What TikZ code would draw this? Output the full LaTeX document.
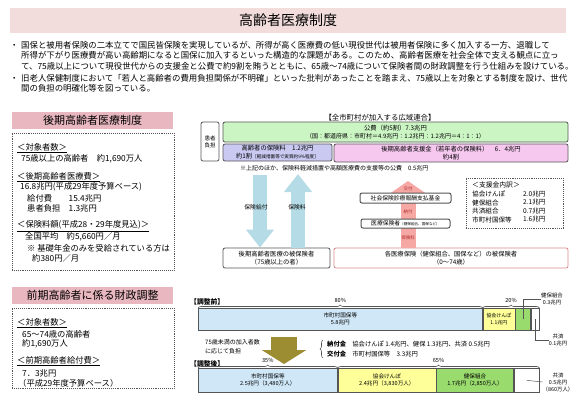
\documentclass[tikz,border=0pt]{standalone}
\usepackage{fontspec}
\setmainfont{Noto Sans CJK JP}
\usetikzlibrary{arrows.meta,decorations.pathreplacing}

\definecolor{titlepink}{HTML}{F2DCDC}
\definecolor{headpink}{HTML}{E8B7BF}
\definecolor{kohigreen}{HTML}{CCF5C4}
\definecolor{hokenlav}{HTML}{C9C9F2}
\definecolor{shienpink}{HTML}{F6C8F0}
\definecolor{arrowblue}{HTML}{B5DCE6}
\definecolor{arrowpink}{HTML}{F6A8A4}
\definecolor{arrowolive}{HTML}{9C8C32}
\definecolor{arrowred}{HTML}{B03030}
\definecolor{barblue}{HTML}{CFE7F7}
\definecolor{baryellow}{HTML}{FFFF99}
\definecolor{bargreen}{HTML}{9ADB6E}
\definecolor{framegray}{HTML}{555555}
\definecolor{kakuframe}{HTML}{D98C8C}

\tikzset{
  bodytxt/.style={inner sep=0pt, font=\fontsize{8.4}{10.5}\selectfont},
  headband/.style={fill=headpink, minimum width=161pt, minimum height=17pt, inner sep=0pt, font=\fontsize{11}{13}\selectfont},
  dotbox/.style={draw=framegray, densely dotted, line width=0.9pt, inner sep=0pt},
  ltxt/.style={anchor=west, inner sep=0pt, font=\fontsize{8.3}{10}\selectfont},
  rbox/.style={draw=framegray, rounded corners=2pt, line width=0.8pt, inner sep=0pt, align=center, font=\fontsize{6.3}{7.8}\selectfont},
  mtxt/.style={inner sep=0pt, align=center, font=\fontsize{6.2}{7.5}\selectfont},
  seg/.style={draw=framegray, line width=0.6pt, anchor=north west, inner sep=0pt, align=center, font=\fontsize{5.6}{7}\selectfont},
  brc/.style={decorate, decoration={brace, amplitude=3pt}, draw=framegray, line width=0.6pt},
  fatblue/.style={arrowblue, line width=14pt, -{Triangle[width=27pt,length=18pt]}},
  fatpink/.style={arrowpink, line width=15pt, -{Triangle[width=48pt,length=17pt]}},
  fatolive/.style={arrowolive, line width=26pt, -{Triangle[width=44pt,length=14pt]}},
  lead/.style={draw=framegray, line width=0.5pt},
  redtxt/.style={inner sep=0pt, text=arrowred, font=\fontsize{4.5}{5}\selectfont},
}

\begin{document}
\begin{tikzpicture}[x=1pt,y=-1pt]
  \useasboundingbox (0,0) rectangle (577,400);

  % title and introduction
  \node[fill=titlepink, minimum width=556pt, minimum height=25pt, font=\fontsize{14}{16}\selectfont] (title) at (288,20.5) {高齢者医療制度};

  \node[bodytxt, anchor=west] (dot1) at (10,46) {・};
  \node[bodytxt, anchor=north west, align=left] (intro1) at (21,41) {国保と被用者保険の二本立てで国民皆保険を実現しているが、所得が高く医療費の低い現役世代は被用者保険に多く加入する一方、退職して\\所得が下がり医療費が高い高齢期になると国保に加入するといった構造的な課題がある。このため、高齢者医療を社会全体で支える観点に立っ\\て、75歳以上について現役世代からの支援金と公費で約9割を賄うとともに、65歳～74歳について保険者間の財政調整を行う仕組みを設けている。};
  \node[bodytxt, anchor=west] (dot2) at (10,79) {・};
  \node[bodytxt, anchor=north west, align=left] (intro2) at (21,74) {旧老人保健制度において「若人と高齢者の費用負担関係が不明確」といった批判があったことを踏まえ、75歳以上を対象とする制度を設け、世代\\間の負担の明確化等を図っている。};

  % left: koki koreisha
  \node[headband] (hdA) at (92.5,120) {後期高齢者医療制度};
  \node[dotbox, minimum width=162pt, minimum height=137pt] (boxA) at (93,201.5) {};
  \node[ltxt] (a1) at (17,148) {\underline{＜対象者数＞}};
  \node[ltxt] (a2) at (21,159) {75歳以上の高齢者　約1,690万人};
  \node[ltxt] (a3) at (17,177) {\underline{＜後期高齢者医療費＞}};
  \node[ltxt] (a4) at (20,187) {16.8兆円(平成29年度予算ベース)};
  \node[ltxt] (a5) at (27,198) {給付費　　15.4兆円};
  \node[ltxt] (a6) at (27,208) {患者負担　1.3兆円};
  \node[ltxt] (a7) at (17,226) {\underline{＜保険料額(平成28・29年度見込)＞}};
  \node[ltxt] (a8) at (25,237) {全国平均　約5,660円／月};
  \node[ltxt] (a9) at (27,248) {※ 基礎年金のみを受給されている方は};
  \node[ltxt] (a10) at (32,258) {約380円／月};

  % left: zenki koreisha
  \node[headband] (hdB) at (92.5,295.5) {前期高齢者に係る財政調整};
  \node[dotbox, minimum width=162pt, minimum height=80pt] (boxB) at (93,348) {};
  \node[ltxt] (b1) at (17,323) {\underline{＜対象者数＞}};
  \node[ltxt] (b2) at (22,334) {65～74歳の高齢者};
  \node[ltxt] (b3) at (22,344) {約1,690万人};
  \node[ltxt] (b4) at (17,361) {\underline{＜前期高齢者給付費＞}};
  \node[ltxt] (b5) at (22,373) {7．3兆円};
  \node[ltxt] (b6) at (18,383) {（平成29年度予算ベース）};

  % koiki rengo
  \node[mtxt, font=\fontsize{7.4}{9}\selectfont] (rengo) at (380,118) {【全市町村が加入する広域連合】};
  \node[rbox, minimum width=18pt, minimum height=39pt, font=\fontsize{5.5}{7}\selectfont] (kanja) at (210,141.5) {患者\\負担};
  \node[rbox, fill=kohigreen, minimum width=345pt, minimum height=20pt] (kohi) at (395.5,132) {公費（約5割）7.3兆円\\{\fontsize{6}{7}\selectfont（国：都道府県：市町村＝4.9兆円：1.2兆円：1.2兆円＝4：1：1）}};
  \node[rbox, fill=hokenlav, minimum width=109pt, minimum height=17pt] (hoken) at (277.5,152.5) {高齢者の保険料　1.2兆円\\約1割{\fontsize{4.6}{6}\selectfont［軽減措置等で実質約9\%程度］}};
  \node[rbox, fill=shienpink, minimum width=234pt, minimum height=18pt] (shien) at (451,153) {後期高齢者支援金（若年者の保険料）　6．4兆円\\約4割};
  \node[mtxt, anchor=west, font=\fontsize{6}{7}\selectfont] (kohinote) at (240,168) {※上記のほか、保険料軽減措置や高額医療費の支援等の公費　0.5兆円};

  % hihokensha
  \node[rbox, minimum width=107pt, minimum height=20pt] (kouki) at (276.5,258) {後期高齢者医療の被保険者\\（75歳以上の者）};
  \node[rbox, draw=kakuframe, minimum width=234pt, minimum height=20pt] (kaku) at (451,258) {各医療保険（健保組合、国保など）の被保険者\\（0～74歳）};

  \coordinate (kyufuTop) at (260,175);
  \coordinate (ryouTop) at (298,174);
  \coordinate (shienTip) at (408,181);
  \path [fatblue] (kyufuTop) edge (kyufuTop |- kouki.north);
  \path [fatblue] (ryouTop |- kouki.north) edge (ryouTop);
  \path [fatpink] (shienTip |- kaku.north) edge (shienTip);

  \node[mtxt, font=\fontsize{5.8}{7}\selectfont] (kyufu) at (256,207) {保険給付};
  \node[mtxt, font=\fontsize{5.8}{7}\selectfont] (ryou) at (297,207) {保険料};
  \node[redtxt] (r1) at (408,189) {交付};
  \node[redtxt] (r2) at (408,212) {納付};
  \node[redtxt] (r3) at (408,238) {保険料};
  \node[rbox, fill=white, line width=1pt, minimum width=91pt, minimum height=10pt, font=\fontsize{5.8}{7}\selectfont] (shikin) at (405.5,198) {社会保険診療報酬支払基金};
  \node[rbox, fill=white, line width=1pt, minimum width=89pt, minimum height=9pt, font=\fontsize{5.8}{7}\selectfont] (iryou) at (405.5,223.5) {医療保険者{\fontsize{3.6}{4}\selectfont（健保組合、国保など）}};

  \node[dotbox, minimum width=97pt, minimum height=50pt] (naiyaku) at (514.5,203) {};
  \node[ltxt, font=\fontsize{6.8}{8}\selectfont] (n0) at (472,185) {＜支援金内訳＞};
  \node[ltxt, font=\fontsize{6.6}{8}\selectfont] (n1) at (472,194) {協会けんぽ};
  \node[ltxt, font=\fontsize{6.6}{8}\selectfont] (n2) at (472,202.5) {健保組合};
  \node[ltxt, font=\fontsize{6.6}{8}\selectfont] (n3) at (472,211) {共済組合};
  \node[ltxt, font=\fontsize{6.6}{8}\selectfont] (n4) at (472,219.5) {市町村国保等};
  \node[ltxt, font=\fontsize{6.6}{8}\selectfont] (v1) at (523,194) {2.0兆円};
  \node[ltxt, font=\fontsize{6.6}{8}\selectfont] (v2) at (523,202.5) {2.1兆円};
  \node[ltxt, font=\fontsize{6.6}{8}\selectfont] (v3) at (523,211) {0.7兆円};
  \node[ltxt, font=\fontsize{6.6}{8}\selectfont] (v4) at (523,219.5) {1.6兆円};

  % before adjustment
  \node[ltxt, font=\fontsize{6.8}{8}\bfseries] (mae) at (190,302) {【調整前】};
  \node[seg, fill=barblue, minimum width=284pt, minimum height=22pt] (mae1) at (198,308) {市町村国保等\\5.8兆円};
  \node[seg, fill=baryellow, minimum width=32pt, minimum height=22pt, font=\fontsize{5}{6.5}\selectfont] (mae2) at (mae1.north east) {協会けんぽ\\1.1兆円};
  \node[seg, fill=bargreen, minimum width=15pt, minimum height=22pt] (mae3) at (mae2.north east) {};
  \node[seg, fill=white, minimum width=8pt, minimum height=22pt] (mae4) at (mae3.north east) {};
  \draw[brc] (mae1.north west) -- (mae1.north east) node[mtxt, midway, above=5pt, font=\fontsize{5.6}{7}\selectfont] {80\%};
  \draw[brc] (mae2.north west) -- (mae4.north east) node[mtxt, midway, above=5pt, font=\fontsize{5.6}{7}\selectfont] {20\%};
  \node[mtxt, font=\fontsize{5.4}{7}\selectfont] (kenpoA) at (552,299) {健保組合\\0.3兆円};
  \node[mtxt, font=\fontsize{5.4}{7}\selectfont] (kyosaiA) at (558,340) {共済\\0.1兆円};
  \draw[lead] (mae3.center) |- (kenpoA.west);
  \draw[lead] (mae4.center) |- (kyosaiA.west);

  % adjustment
  \coordinate (chouTop) at (284,337);
  \coordinate (chouTip) at (284,364);
  \path [fatolive] (chouTop) edge (chouTip);
  \node[ltxt, font=\fontsize{6}{7}\selectfont] (futan1) at (205,342) {75歳未満の加入者数};
  \node[ltxt, font=\fontsize{6}{7}\selectfont] (futan2) at (205,351) {に応じて負担};
  \node[ltxt, font=\fontsize{6.3}{7.5}\selectfont] (noufu) at (327,344) {\textbf{納付金}　協会けんぽ 1.4兆円、健保 1.3兆円、共済 0.5兆円};
  \node[ltxt, font=\fontsize{6.3}{7.5}\selectfont] (koufu) at (327,354) {\textbf{交付金}　市町村国保等　3.3兆円};
  \draw[brc] ([xshift=-4pt,yshift=-4pt]koufu.west) -- ([xshift=-4pt,yshift=4pt]noufu.west);

  % after adjustment
  \node[ltxt, font=\fontsize{6.8}{8}\bfseries] (ato) at (190,364) {【調整後】};
  \node[seg, fill=barblue, minimum width=139pt, minimum height=24pt] (ato1) at (198,368) {市町村国保等\\2.5兆円（3,480万人）};
  \node[seg, fill=baryellow, minimum width=98pt, minimum height=24pt] (ato2) at (ato1.north east) {協会けんぽ\\2.4兆円（3,830万人）};
  \node[seg, fill=bargreen, minimum width=77pt, minimum height=24pt] (ato3) at (ato2.north east) {健保組合\\1.7兆円（2,850万人）};
  \node[seg, fill=white, minimum width=25pt, minimum height=24pt] (ato4) at (ato3.north east) {};
  \draw[brc] (ato1.north west) -- (ato1.north east) node[mtxt, midway, above=5pt, font=\fontsize{5.6}{7}\selectfont] {35\%};
  \draw[brc] (ato2.north west) -- (ato4.north east) node[mtxt, midway, above=5pt, font=\fontsize{5.6}{7}\selectfont] {65\%};
  \node[mtxt, font=\fontsize{5.4}{7}\selectfont] (kyosaiB) at (558,382) {共済\\0.5兆円\\（860万人）};
  \draw[lead] (ato4.center) -- (kyosaiB.west);
\end{tikzpicture}
\end{document}
